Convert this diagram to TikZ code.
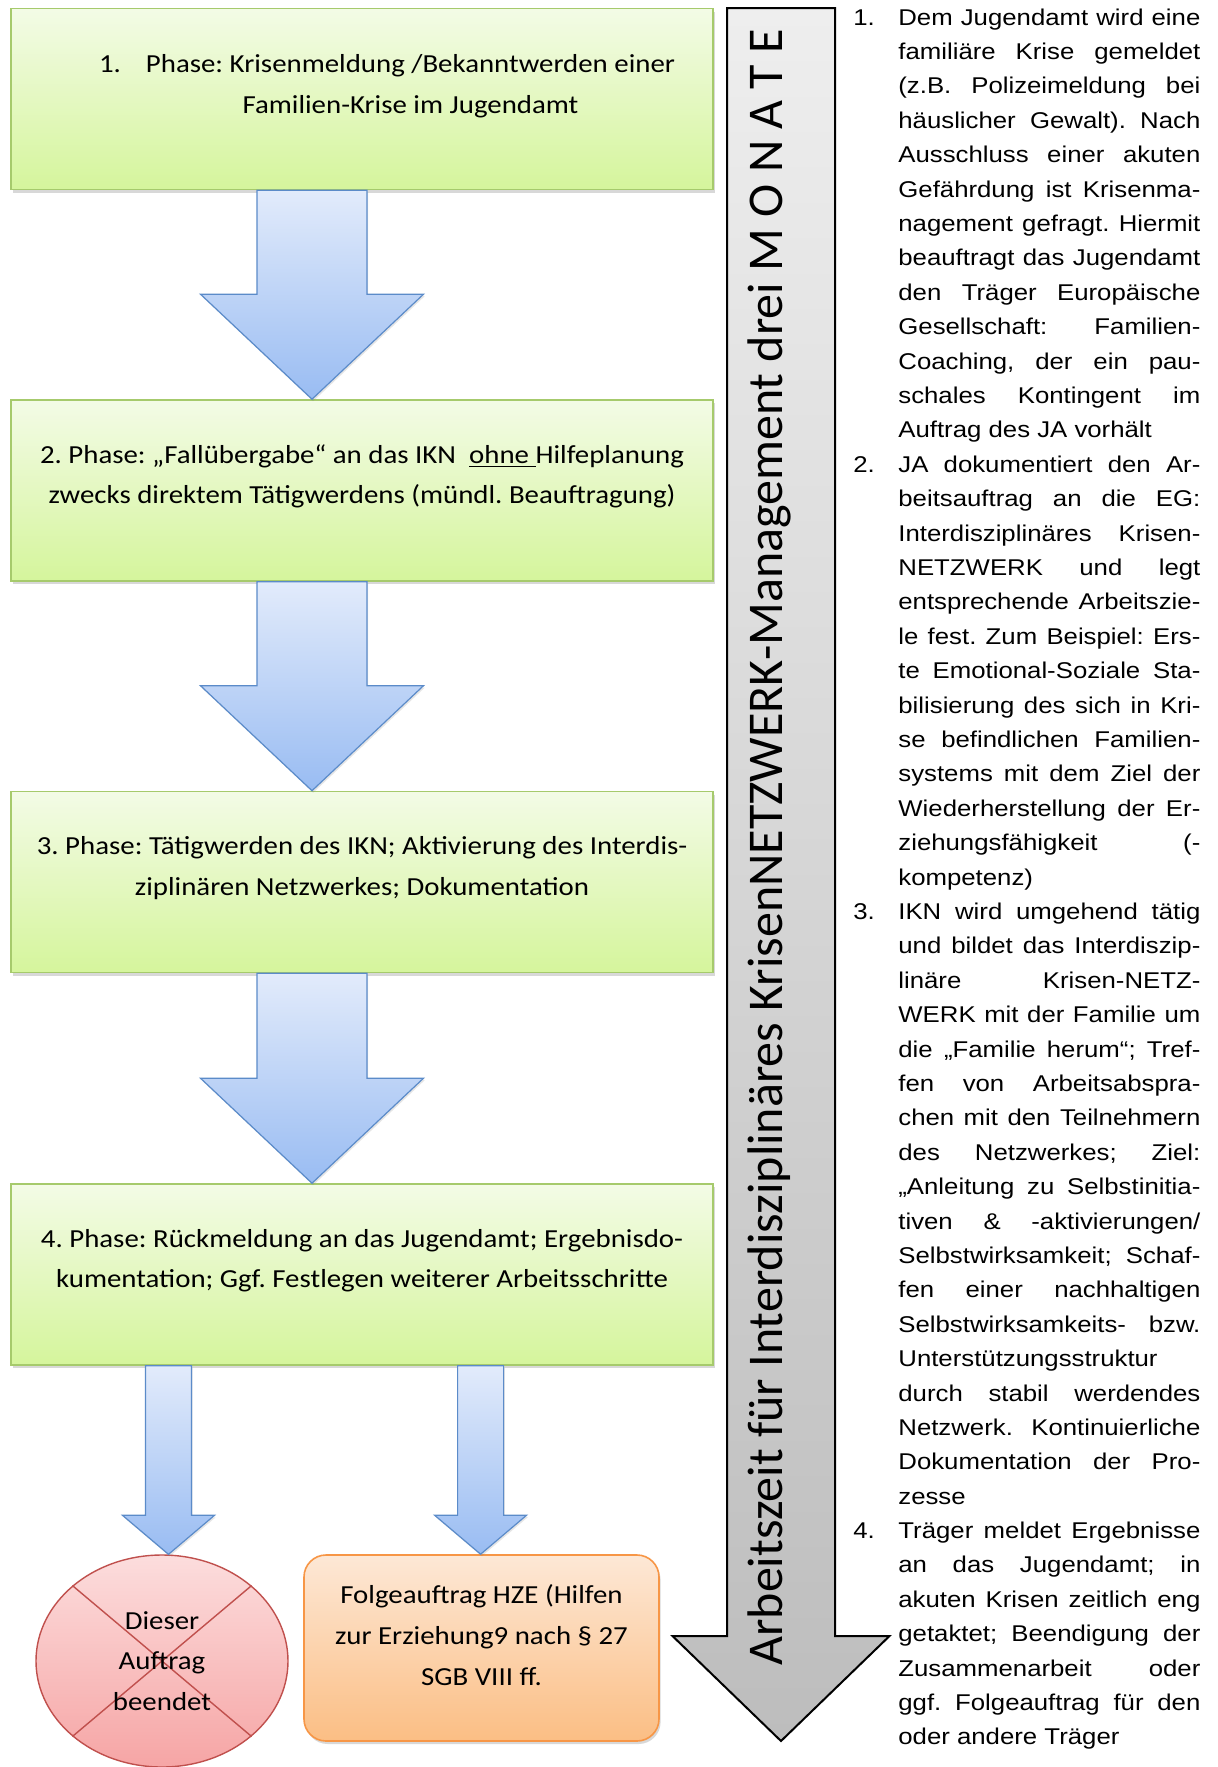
\documentclass[tikz,border=0pt]{standalone}
\usepackage{fontspec}
\setmainfont{Carlito}
\newfontfamily\boxfont[FakeStretch=1.11]{Carlito}
\newfontfamily\colfont[FakeStretch=1.13]{Liberation Sans}
\usetikzlibrary{calc,shadows,shapes.geometric}

\definecolor{phasetop}{HTML}{F3FBE6}
\definecolor{phasebot}{HTML}{D5F59C}
\definecolor{phaseline}{HTML}{A6CA6C}
\definecolor{arrowtop}{HTML}{E2EBFB}
\definecolor{arrowbot}{HTML}{99BCF2}
\definecolor{arrowline}{HTML}{5B8BC9}
\definecolor{timetop}{HTML}{EEEEEE}
\definecolor{timebot}{HTML}{BDBDBD}
\definecolor{stoptop}{HTML}{FCDDDD}
\definecolor{stopbot}{HTML}{F6A5A5}
\definecolor{stopline}{HTML}{C0504D}
\definecolor{nexttop}{HTML}{FDE8D6}
\definecolor{nextbot}{HTML}{FBBE84}
\definecolor{nextline}{HTML}{F79646}

% column on the right: one box per printed line
\newlength\colw \setlength\colw{151pt}
\newlength\numw \setlength\numw{22.5pt}
\newcommand\fline[2]{\hbox{\hbox to\numw{#1\hfil}\hbox to\colw{#2}}}
\newcommand\jline[1]{\hbox{\hskip\numw\hbox to\colw{#1}}}
\newcommand\rline[1]{\hbox{\hskip\numw #1}}

% block arrow: top centre, tip, half shaft, half head, head length
\newcommand\flowarrow[6][blockarrow]{%
  \draw[#1] ($(#2)+(-#4,0)$) -- ($(#3)+(-#4,-#6)$) -- ($(#3)+(-#5,-#6)$) -- (#3)
    -- ($(#3)+(#5,-#6)$) -- ($(#3)+(#4,-#6)$) -- ($(#2)+(#4,0)$) -- cycle;}

\tikzset{
  phase/.style={draw=phaseline,line width=0.8pt,top color=phasetop,bottom color=phasebot,
    minimum width=351pt,minimum height=90.5pt,inner sep=0pt,
    drop shadow={shadow xshift=0.8pt,shadow yshift=-1.5pt,opacity=0.3}},
  phasetext/.style={align=center,inner sep=0pt,
    font=\boxfont\fontsize{13pt}{20.3pt}\selectfont\frenchspacing},
  blockarrow/.style={draw=arrowline,line width=0.6pt,top color=arrowtop,bottom color=arrowbot,
    drop shadow={shadow xshift=0.6pt,shadow yshift=-1pt,opacity=0.2}},
  timearrow/.style={draw=black,line width=1pt,top color=timetop,bottom color=timebot},
  stopnode/.style={ellipse,draw=stopline,line width=0.7pt,top color=stoptop,bottom color=stopbot,
    minimum width=126pt,minimum height=106pt,inner sep=0pt},
  nextnode/.style={draw=nextline,line width=0.8pt,rounded corners=11pt,top color=nexttop,
    bottom color=nextbot,minimum width=177.5pt,minimum height=93pt,inner sep=0pt,
    drop shadow={shadow xshift=0.8pt,shadow yshift=-1.5pt,opacity=0.3}},
  coltext/.style={anchor=base west,inner sep=0pt}
}

\begin{document}
\begin{tikzpicture}[x=0.5pt,y=-0.5pt]
\path[use as bounding box,fill=white] (0,0) rectangle (1217,1767);

% time arrow
\coordinate (g0) at (781,8);
\coordinate (g1) at (781,1741);
\flowarrow[timearrow]{g0}{g1}{54}{108.5}{105}
\node[rotate=90,anchor=base west,inner sep=0pt,font=\fontsize{25pt}{29pt}\selectfont] (tz) at (782,1666)
  {Arbeitszeit für Interdisziplinäres KrisenNETZWERK-Management drei M O N A T E};

% phases
\node[phase] (p1) at (362,99) {};
\node[phase] (p2) at (362,490.5) {};
\node[phase] (p3) at (362,882) {};
\node[phase] (p4) at (362,1274.5) {};

\node[phasetext] (t1) at ([xshift=12.5pt,yshift=7pt]p1.center)
  {\begin{tabular}{@{}l@{\hspace{12.5pt}}c@{}}1.&Phase: Krisenmeldung /Bekanntwerden einer\\ &Familien-Krise im Jugendamt\end{tabular}};
\node[phasetext] (t2) at ([yshift=7pt]p2.center)
  {2. Phase: „Fallübergabe“ an das IKN\ \ \underline{ohne\ }Hilfeplanung\\zwecks direktem Tätigwerdens (mündl. Beauftragung)};
\node[phasetext] (t3) at ([yshift=7pt]p3.center)
  {3. Phase: Tätigwerden des IKN; Aktivierung des Interdis-\\ziplinären Netzwerkes; Dokumentation};
\node[phasetext] (t4) at ([yshift=7pt]p4.center)
  {4. Phase: Rückmeldung an das Jugendamt; Ergebnisdo-\\kumentation; Ggf. Festlegen weiterer Arbeitsschritte};

% outcomes
\node[stopnode] (x) at (162,1661) {};
\draw[stopline,line width=0.7pt] (x.north west) -- (x.south east) (x.north east) -- (x.south west);
\node[phasetext] (t5) at (x.center) {Dieser\\Auftrag\\beendet};
\node[nextnode] (f) at (481.5,1648) {};
\node[phasetext] (t6) at ([yshift=6.5pt]f.center) {Folgeauftrag HZE (Hilfen\\zur Erziehung9 nach § 27\\SGB VIII ff.};

% arrows between the boxes
\coordinate (a1) at ([xshift=-25pt]p1.south);
\coordinate (b1) at ([xshift=-25pt]p2.north);
\coordinate (a2) at ([xshift=-25pt]p2.south);
\coordinate (b2) at ([xshift=-25pt]p3.north);
\coordinate (a3) at ([xshift=-25pt]p3.south);
\coordinate (b3) at ([xshift=-25pt]p4.north);
\flowarrow{a1}{b1}{55}{111.5}{105}
\flowarrow{a2}{b2}{55}{111.5}{105}
\flowarrow{a3}{b3}{55}{111.5}{105}
\coordinate (a4) at ([xshift=-96.75pt]p4.south);
\coordinate (b4) at (a4 |- x.north);
\coordinate (a5) at ([xshift=59.3pt]p4.south);
\coordinate (b5) at (a5 |- f.north);
\flowarrow{a4}{b4}{23}{46}{39}
\flowarrow{a5}{b5}{23}{46}{39}

% explanations
\node[coltext] (items) at (853,25) {\vtop{\colfont\fontsize{11.4pt}{17.2pt}\selectfont\frenchspacing
\fline{1.}{Dem Jugendamt wird eine}
\jline{familiäre Krise gemeldet}
\jline{(z.B. Polizeimeldung bei}
\jline{häuslicher Gewalt). Nach}
\jline{Ausschluss einer akuten}
\jline{Gefährdung ist Krisenma-}
\jline{nagement gefragt. Hiermit}
\jline{beauftragt das Jugendamt}
\jline{den Träger Europäische}
\jline{Gesellschaft: Familien-}
\jline{Coaching, der ein pau-}
\jline{schales Kontingent im}
\rline{Auftrag des JA vorhält}
\fline{2.}{JA dokumentiert den Ar-}
\jline{beitsauftrag an die EG:}
\jline{Interdisziplinäres Krisen-}
\jline{NETZWERK und legt}
\jline{entsprechende Arbeitszie-}
\jline{le fest. Zum Beispiel: Ers-}
\jline{te Emotional-Soziale Sta-}
\jline{bilisierung des sich in Kri-}
\jline{se befindlichen Familien-}
\jline{systems mit dem Ziel der}
\jline{Wiederherstellung der Er-}
\jline{ziehungsfähigkeit (-}
\rline{kompetenz)}
\fline{3.}{IKN wird umgehend tätig}
\jline{und bildet das Interdiszip-}
\jline{linäre Krisen-NETZ-}
\jline{WERK mit der Familie um}
\jline{die „Familie herum“; Tref-}
\jline{fen von Arbeitsabspra-}
\jline{chen mit den Teilnehmern}
\jline{des Netzwerkes; Ziel:}
\jline{„Anleitung zu Selbstinitia-}
\jline{tiven \& -aktivierungen/}
\jline{Selbstwirksamkeit; Schaf-}
\jline{fen einer nachhaltigen}
\jline{Selbstwirksamkeits- bzw.}
\rline{Unterstützungsstruktur}
\jline{durch stabil werdendes}
\jline{Netzwerk. Kontinuierliche}
\jline{Dokumentation der Pro-}
\rline{zesse}
\fline{4.}{Träger meldet Ergebnisse}
\jline{an das Jugendamt; in}
\jline{akuten Krisen zeitlich eng}
\jline{getaktet; Beendigung der}
\jline{Zusammenarbeit oder}
\jline{ggf. Folgeauftrag für den}
\rline{oder andere Träger}}};
\end{tikzpicture}
\end{document}
